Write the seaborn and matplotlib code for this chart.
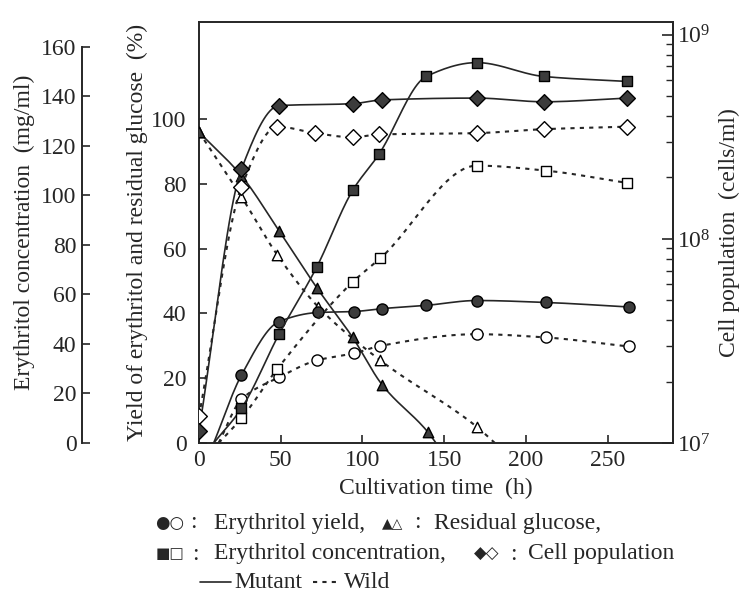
import numpy as np
import matplotlib
matplotlib.use('Agg')
import matplotlib.pyplot as plt
from matplotlib.lines import Line2D
from matplotlib.ticker import FixedLocator, NullFormatter
import seaborn as sns

# values
# erythritol yield (%)
t_yield_mut = [26, 49, 73, 95, 112, 139, 170, 212, 263]
yield_mut = [21, 37.5, 40.3, 40.6, 41.5, 42.5, 44, 43.4, 42]
t_yield_wild = [26, 49, 72, 95, 111, 170, 212, 263]
yield_wild = [13.5, 20.3, 25.5, 27.7, 30, 33.6, 32.6, 29.8]

# residual glucose (%)
t_gluc_mut = [0, 26, 49, 72, 94, 112, 140]
gluc_mut = [96, 82.5, 65.5, 48, 32.6, 18, 3.4]
t_gluc_wild = [0, 26, 48, 73, 111, 170]
gluc_wild = [96, 76, 58, 42, 25.5, 5]

# erythritol concentration (mg/ml)
t_conc_mut = [26, 49, 72, 94, 110, 139, 170, 211, 262]
conc_mut = [14, 44, 71, 102, 116.5, 148, 153.6, 148, 146]
t_conc_wild = [26, 48, 94, 111, 170, 212, 262]
conc_wild = [10, 30, 65, 74.6, 112, 110, 105]

# cell population (cells/ml)
t_cell_mut = [0, 26, 49, 94, 112, 170, 211, 262]
cell_mut = [1.15e7, 2.2e8, 4.5e8, 4.6e8, 4.8e8, 4.9e8, 4.7e8, 4.9e8]
t_cell_wild = [0, 26, 48, 71, 94, 110, 170, 211, 262]
cell_wild = [1.35e7, 1.8e8, 3.55e8, 3.3e8, 3.15e8, 3.25e8, 3.3e8, 3.45e8, 3.55e8]

# where the drawn curves leave / reach zero
lag_mut, lag_wild = 9, 12
gluc_end_mut, gluc_end_wild = 145, 181


def smooth(x, y, n=200):
    # monotone cubic (pchip) through the read points, only for drawing the curve
    x = np.asarray(x, float)
    y = np.asarray(y, float)
    h = np.diff(x)
    d = np.diff(y) / h
    m = np.zeros_like(y)
    for k in range(1, len(x) - 1):
        if d[k - 1] * d[k] > 0:
            w1 = 2 * h[k] + h[k - 1]
            w2 = h[k] + 2 * h[k - 1]
            m[k] = (w1 + w2) / (w1 / d[k - 1] + w2 / d[k])
    m[0] = d[0]
    m[-1] = d[-1]
    xs = np.linspace(x[0], x[-1], n)
    i = np.clip(np.searchsorted(x, xs) - 1, 0, len(x) - 2)
    s = (xs - x[i]) / h[i]
    h00 = 2 * s**3 - 3 * s**2 + 1
    h10 = s**3 - 2 * s**2 + s
    h01 = -2 * s**3 + 3 * s**2
    h11 = s**3 - s**2
    ys = h00 * y[i] + h10 * h[i] * m[i] + h01 * y[i + 1] + h11 * h[i] * m[i + 1]
    return xs, ys


sns.set_theme(style='ticks')
plt.rcParams['font.family'] = ['Liberation Serif', 'DejaVu Sans']
plt.rcParams['mathtext.default'] = 'regular'
ink = '#262626'
fill = '#3c3c3c'
fs = 17

fig = plt.figure(figsize=(7.41, 5.96), dpi=100)
ax = fig.add_axes([199 / 741, 1 - 443 / 596, 474 / 741, 421 / 596])
ax_c = ax.twinx()
ax_n = ax.twinx()

solid = dict(color=ink, lw=1.2, linestyle='-')
dash = dict(color=ink, lw=1.5, linestyle=(0, (2, 2.5)))


def curve(a, x, y, style, log=False):
    if log:
        xs, ys = smooth(x, np.log10(y))
        ys = 10**ys
    else:
        xs, ys = smooth(x, y)
    sns.lineplot(x=xs, y=ys, ax=a, sort=False, estimator=None, **style)


def marks(a, x, y, marker, size, filled):
    sns.scatterplot(x=x, y=y, ax=a, marker=marker, s=size**2,
                    color=fill if filled else 'white', edgecolor='black',
                    linewidth=1.0, zorder=5 if filled else 4)


# yield
curve(ax, [lag_mut] + t_yield_mut, [0] + yield_mut, solid)
curve(ax, [lag_wild] + t_yield_wild, [0] + yield_wild, dash)
marks(ax, t_yield_mut, yield_mut, 'o', 8, True)
marks(ax, t_yield_wild, yield_wild, 'o', 8, False)

# glucose
curve(ax, t_gluc_mut + [gluc_end_mut], gluc_mut + [0], solid)
curve(ax, t_gluc_wild + [gluc_end_wild], gluc_wild + [0], dash)
marks(ax, t_gluc_wild, gluc_wild, '^', 7.5, False)
marks(ax, t_gluc_mut, gluc_mut, '^', 7.5, True)

# concentration
curve(ax_c, [lag_mut] + t_conc_mut, [0] + conc_mut, solid)
curve(ax_c, [lag_wild] + t_conc_wild, [0] + conc_wild, dash)
marks(ax_c, t_conc_mut, conc_mut, 's', 7.5, True)
marks(ax_c, t_conc_wild, conc_wild, 's', 7.5, False)

# cells
curve(ax_n, t_cell_mut, cell_mut, solid, log=True)
curve(ax_n, t_cell_wild, cell_wild, dash, log=True)
marks(ax_n, t_cell_wild, cell_wild, 'D', 8, False)
marks(ax_n, t_cell_mut, cell_mut, 'D', 8, True)

# main axis
ax.set_xlim(0, 290)
ax.set_ylim(0, 130)
ax.set_xticks(range(0, 300, 50))
ax.set_yticks(range(0, 120, 20))
ax.set_xlabel('Cultivation time  (h)', fontsize=fs, color=ink, labelpad=5)
ax.set_ylabel('Yield of erythritol and residual glucose  (%)', fontsize=fs,
              color=ink, labelpad=2)
ax.tick_params(axis='x', direction='in', length=6, width=1.2, labelsize=fs,
               colors=ink, pad=5)
ax.tick_params(axis='y', direction='in', length=6, width=1.2, labelsize=fs,
               colors=ink, pad=9)
for sp in ax.spines.values():
    sp.set_linewidth(1.4)
    sp.set_color(ink)

# concentration axis on the far left
ax_c.set_ylim(0, 170)
ax_c.yaxis.set_ticks_position('left')
ax_c.yaxis.set_label_position('left')
ax_c.spines['left'].set_position(('axes', -117 / 474))
ax_c.spines['left'].set_bounds(0, 160)
for k in ['right', 'top', 'bottom']:
    ax_c.spines[k].set_visible(False)
ax_c.spines['left'].set_linewidth(1.4)
ax_c.spines['left'].set_color(ink)
ax_c.set_yticks(range(0, 180, 20))
ax_c.tick_params(axis='y', direction='in', length=6, width=1.2,
                 labelsize=fs, colors=ink, pad=4)
ax_c.set_ylabel('Erythritol concentration  (mg/ml)', fontsize=fs,
                color=ink, labelpad=4)

# cell population on the right, log scale
ax_n.set_yscale('log')
ax_n.set_ylim(1e7, 10**9.063)
ax_n.yaxis.set_major_locator(FixedLocator([1e7, 1e8, 1e9]))
ax_n.set_yticklabels(['$10^7$', '$10^8$', '$10^9$'])
minor = [s * 10**e for e in (7, 8) for s in range(2, 10)]
ax_n.yaxis.set_minor_locator(FixedLocator(minor))
ax_n.yaxis.set_minor_formatter(NullFormatter())
ax_n.tick_params(axis='y', which='major', direction='in', length=8,
                 width=1.2, labelsize=fs, colors=ink, pad=3)
ax_n.tick_params(axis='y', which='minor', direction='in', length=5,
                 width=1.0, colors=ink)
for k in ['left', 'top', 'bottom']:
    ax_n.spines[k].set_visible(False)
ax_n.spines['right'].set_linewidth(1.4)
ax_n.spines['right'].set_color(ink)
ax_n.set_ylabel('Cell population  (cells/ml)', fontsize=fs, color=ink,
                labelpad=6)

# key under the plot
W, H = 741, 596


def ftext(x, y, s, size=fs, family=None):
    kw = dict(fontsize=size, color=ink, va='center', ha='left')
    if family:
        kw['family'] = family
    fig.text(x / W, 1 - y / H, s, **kw)


sym = ['DejaVu Sans']
r1, r2, r3 = 523, 554, 582
ftext(155, r1, '\u25cf\u25cb', 12, sym)
ftext(190, r1, ':')
ftext(214, r1, 'Erythritol yield,')
ftext(382, r1, '\u25b2\u25b3', 10, sym)
ftext(414, r1, ':')
ftext(434, r1, 'Residual glucose,')
ftext(156, r2, '\u25a0\u25a1', 11, sym)
ftext(192, r2, ':')
ftext(214, r2, 'Erythritol concentration,')
ftext(474, r2, '\u25c6\u25c7', 12, sym)
ftext(510, r2, ':')
ftext(528, r2, 'Cell population')
fig.add_artist(Line2D([200 / W, 231 / W], [1 - r3 / H, 1 - r3 / H],
                      transform=fig.transFigure, **solid))
ftext(234, r3, 'Mutant')
fig.add_artist(Line2D([313 / W, 341 / W], [1 - r3 / H, 1 - r3 / H],
                      transform=fig.transFigure, **dash))
ftext(344, r3, 'Wild')

fig.savefig('out.png', dpi=100)
